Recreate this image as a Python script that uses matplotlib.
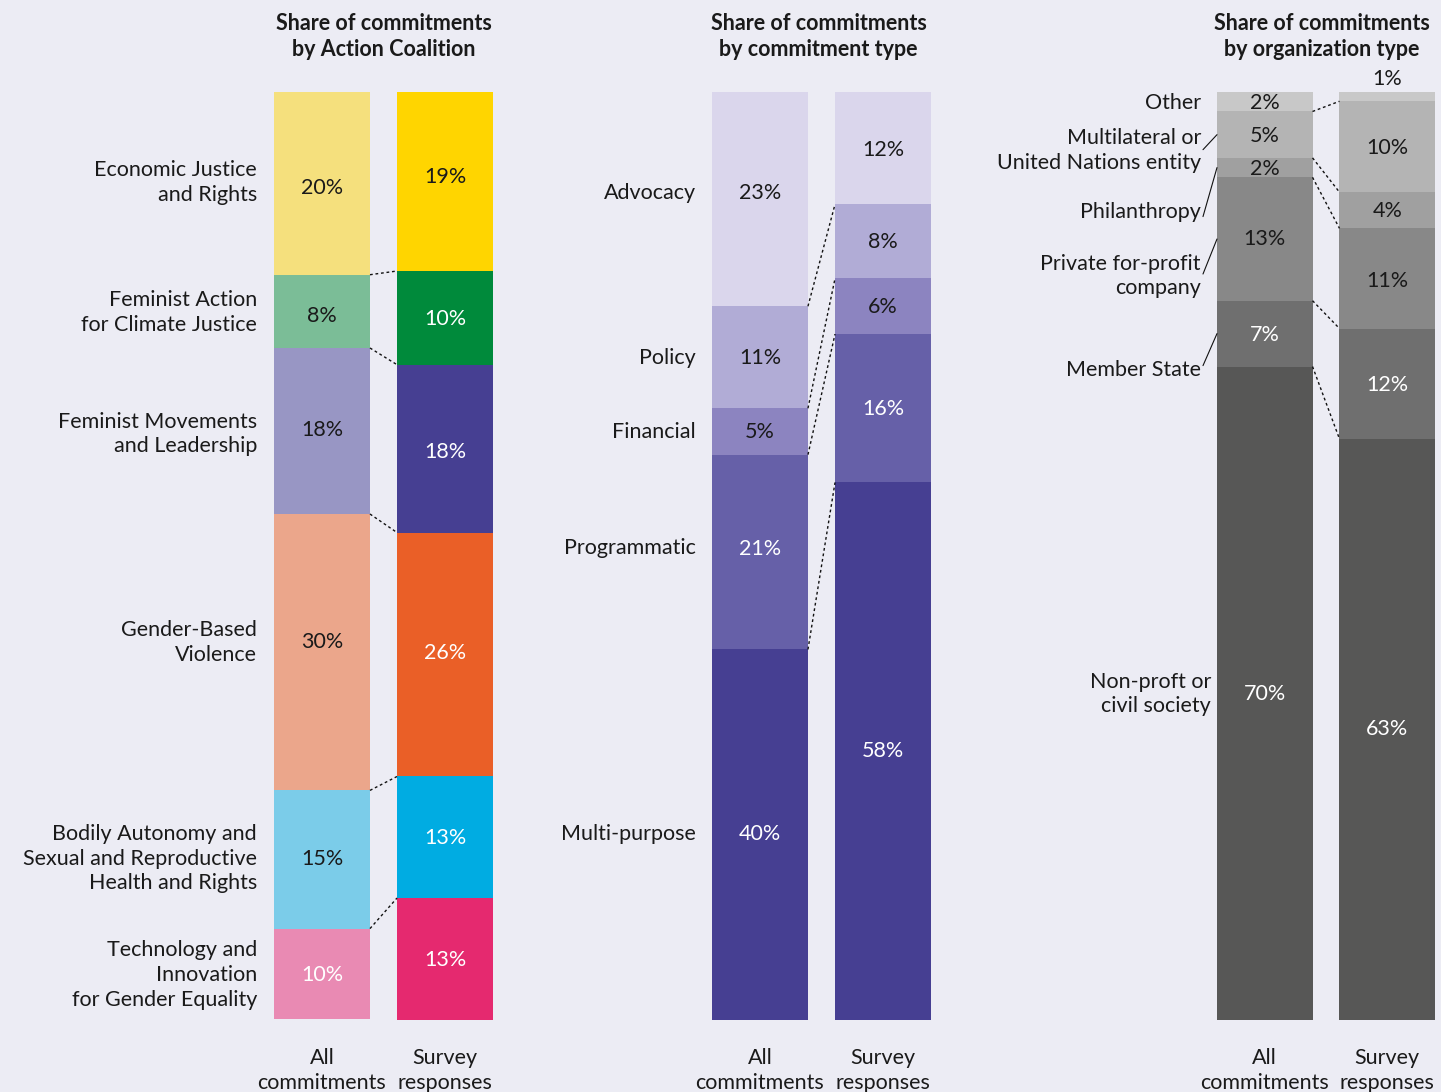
import matplotlib
matplotlib.use('Agg')
import matplotlib.pyplot as plt
import numpy as np

plt.rcParams['font.family'] = ['Lato', 'DejaVu Sans']

BG = '#ECECF4'
DARK = '#1A1A1A'
W, H = 1441, 1092

bar_names = ['All\ncommitments', 'Survey\nresponses']

# ---- Panel 1: Action Coalition ----
ac_title = 'Share of commitments\nby Action Coalition'
ac_categories = ['Economic Justice\nand Rights', 'Feminist Action\nfor Climate Justice',
                 'Feminist Movements\nand Leadership', 'Gender-Based\nViolence',
                 'Bodily Autonomy and\nSexual and Reproductive\nHealth and Rights',
                 'Technology and\nInnovation\nfor Gender Equality']
ac_all = [19.7, 7.9, 17.9, 29.8, 14.9, 9.8]
ac_survey = [19.3, 10.1, 18.1, 26.3, 13.1, 13.1]

# ---- Panel 2: commitment type ----
ct_title = 'Share of commitments\nby commitment type'
ct_categories = ['Advocacy', 'Policy', 'Financial', 'Programmatic', 'Multi-purpose']
ct_all = [23.1, 11.0, 5.0, 21.0, 39.9]
ct_survey = [12.1, 8.0, 6.0, 16.0, 57.9]

# ---- Panel 3: organization type ----
ot_title = 'Share of commitments\nby organization type'
ot_categories = ['Other', 'Multilateral or\nUnited Nations entity', 'Philanthropy',
                 'Private for-profit\ncompany', 'Member State', 'Non-proft or\ncivil society']
ot_all = [2.1, 5.0, 2.1, 13.3, 7.1, 70.4]
ot_survey = [1.0, 9.8, 3.9, 10.8, 11.9, 62.6]

# ---- styles ----
ac_colors_all = ['#F5E07D', '#7BBD97', '#9896C4', '#EBA68B', '#7BCCE9', '#E98AB3']
ac_colors_sur = ['#FFD500', '#008A3B', '#463F92', '#EA5F27', '#00ACE2', '#E5296F']
ac_txt_all = [DARK, DARK, DARK, DARK, DARK, 'white']
ac_txt_sur = [DARK, 'white', 'white', 'white', 'white', 'white']

ct_colors = ['#DAD6EC', '#B1ACD6', '#8C84C0', '#6660A8', '#463F92']
ct_txt = [DARK, DARK, DARK, 'white', 'white']

ot_colors = ['#C8C8C8', '#B4B4B4', '#A0A0A0', '#888888', '#6F6F6F', '#575756']
ot_txt = [DARK, DARK, DARK, DARK, 'white', 'white']

# label nudges in pixels (positive = up)
ac_pct_dy_all = [-4, -4, 2, 11, 2, 0]
ac_pct_dy_sur = [6, 0, -2, 3, 0, 0]
ac_cat_dy = [2, 0, -2, 11, 2, 0]
ct_pct_dy_all = [7, 0, 0, 4, 1]
ct_pct_dy_sur = [-1, 0, 0, 0, 1]
ct_cat_dy = [7, 0, 0, 5, 1]
ot_pct_dy_all = [0, 0, 0, 1, 0, 0]
ot_pct_dy_sur = [0, 0, 0, -2, 0, 1]

FS = 15.5
LS = 1.3
BW = 0.78
XL = (-0.39, 1.39)

fig = plt.figure(figsize=(W / 100, H / 100), dpi=100, facecolor=BG)


def add_ax(left_px, width_px, top_px=92, bottom_px=1019.5):
    ax = fig.add_axes([left_px / W, 1 - bottom_px / H, width_px / W, (bottom_px - top_px) / H])
    ax.set_facecolor('none')
    for s in ax.spines.values():
        s.set_visible(False)
    ax.set_xlim(*XL)
    ax.set_ylim(0, 100)
    ax.set_yticks([])
    ax.set_xticks([0, 1], bar_names)
    ax.tick_params(axis='x', length=0, pad=20.5, labelsize=FS, labelcolor=DARK)
    for t in ax.get_xticklabels():
        t.set_linespacing(LS)
    return ax


def stacked(ax, x, vals, colors, txtcolors, dys, small_above=False):
    v = np.array(vals, dtype=float)
    hv = v / v.sum() * 100
    tops = 100 - np.concatenate([[0], np.cumsum(hv)[:-1]])
    bottoms = tops - hv
    ax.bar(x, hv, bottom=bottoms, width=BW, color=colors, edgecolor='none')
    mids = (tops + bottoms) / 2
    for val, m, c, top, dy in zip(v, mids, txtcolors, tops, dys):
        lab = f'{round(val)}%'
        if small_above and val < 1.5:
            ax.annotate(lab, xy=(x, top), xytext=(0, 13), textcoords='offset pixels',
                        ha='center', va='center', fontsize=FS, color=DARK)
        else:
            ax.annotate(lab, xy=(x, m), xytext=(0, dy - 1), textcoords='offset pixels',
                        ha='center', va='center', fontsize=FS, color=c)
    return tops, bottoms, mids


def connectors(ax, b_all, b_sur):
    for y1, y2 in zip(b_all[:-1], b_sur[:-1]):
        ax.plot([BW / 2, 1 - BW / 2], [y1, y2], color='#111111', lw=1.0,
                ls=(0, (2, 2)), solid_capstyle='butt')


def title(ax, text, dx=0):
    ax.annotate(text, xy=(0.5, 1), xycoords='axes fraction', xytext=(dx, 32),
                textcoords='offset pixels', ha='center', va='bottom', fontsize=FS,
                fontweight='bold', color=DARK, linespacing=LS)


# Panel 1
ax1 = add_ax(274, 219)
t, b_all, m_all = stacked(ax1, 0, ac_all, ac_colors_all, ac_txt_all, ac_pct_dy_all)
t, b_sur, m_sur = stacked(ax1, 1, ac_survey, ac_colors_sur, ac_txt_sur, ac_pct_dy_sur)
connectors(ax1, b_all, b_sur)
for cat, m, dy in zip(ac_categories, m_all, ac_cat_dy):
    ax1.annotate(cat, xy=(-BW / 2, m), xytext=(-17, dy - 1), textcoords='offset pixels',
                 ha='right', va='center', fontsize=FS, color=DARK, linespacing=LS)
title(ax1, ac_title)

# Panel 2
ax2 = add_ax(712, 219)
t, b_all, m_all = stacked(ax2, 0, ct_all, ct_colors, ct_txt, ct_pct_dy_all)
t, b_sur, m_sur = stacked(ax2, 1, ct_survey, ct_colors, ct_txt, ct_pct_dy_sur)
connectors(ax2, b_all, b_sur)
for cat, m, dy in zip(ct_categories, m_all, ct_cat_dy):
    ax2.annotate(cat, xy=(-BW / 2, m), xytext=(-16, dy - 1), textcoords='offset pixels',
                 ha='right', va='center', fontsize=FS, color=DARK, linespacing=LS)
title(ax2, ct_title, dx=-3)

# Panel 3
ax3 = add_ax(1217, 218)
t, b_all, m_all = stacked(ax3, 0, ot_all, ot_colors, ot_txt, ot_pct_dy_all)
t, b_sur, m_sur = stacked(ax3, 1, ot_survey, ot_colors, ot_txt, ot_pct_dy_sur, small_above=True)
connectors(ax3, b_all, b_sur)
lab_dx = [-16, -16, -16, -16, -16, -6]
lab_dy = [0, -15, -43, -36, -35, 0]
line_dy = [None, -15, -49, -35, -32, None]
for cat, m, dx, dy, ldy in zip(ot_categories, m_all, lab_dx, lab_dy, line_dy):
    ax3.annotate(cat, xy=(-BW / 2, m), xytext=(dx, dy - 1), textcoords='offset pixels',
                 ha='right', va='center', fontsize=FS, color=DARK, linespacing=LS)
    if ldy is not None:
        ax3.annotate('', xy=(-BW / 2, m), xytext=(-14, ldy), textcoords='offset pixels',
                     arrowprops=dict(arrowstyle='-', lw=0.8, color='#111111',
                                     shrinkA=0, shrinkB=0))
title(ax3, ot_title, dx=-4)

fig.savefig('out.png', dpi=100, facecolor=BG)
